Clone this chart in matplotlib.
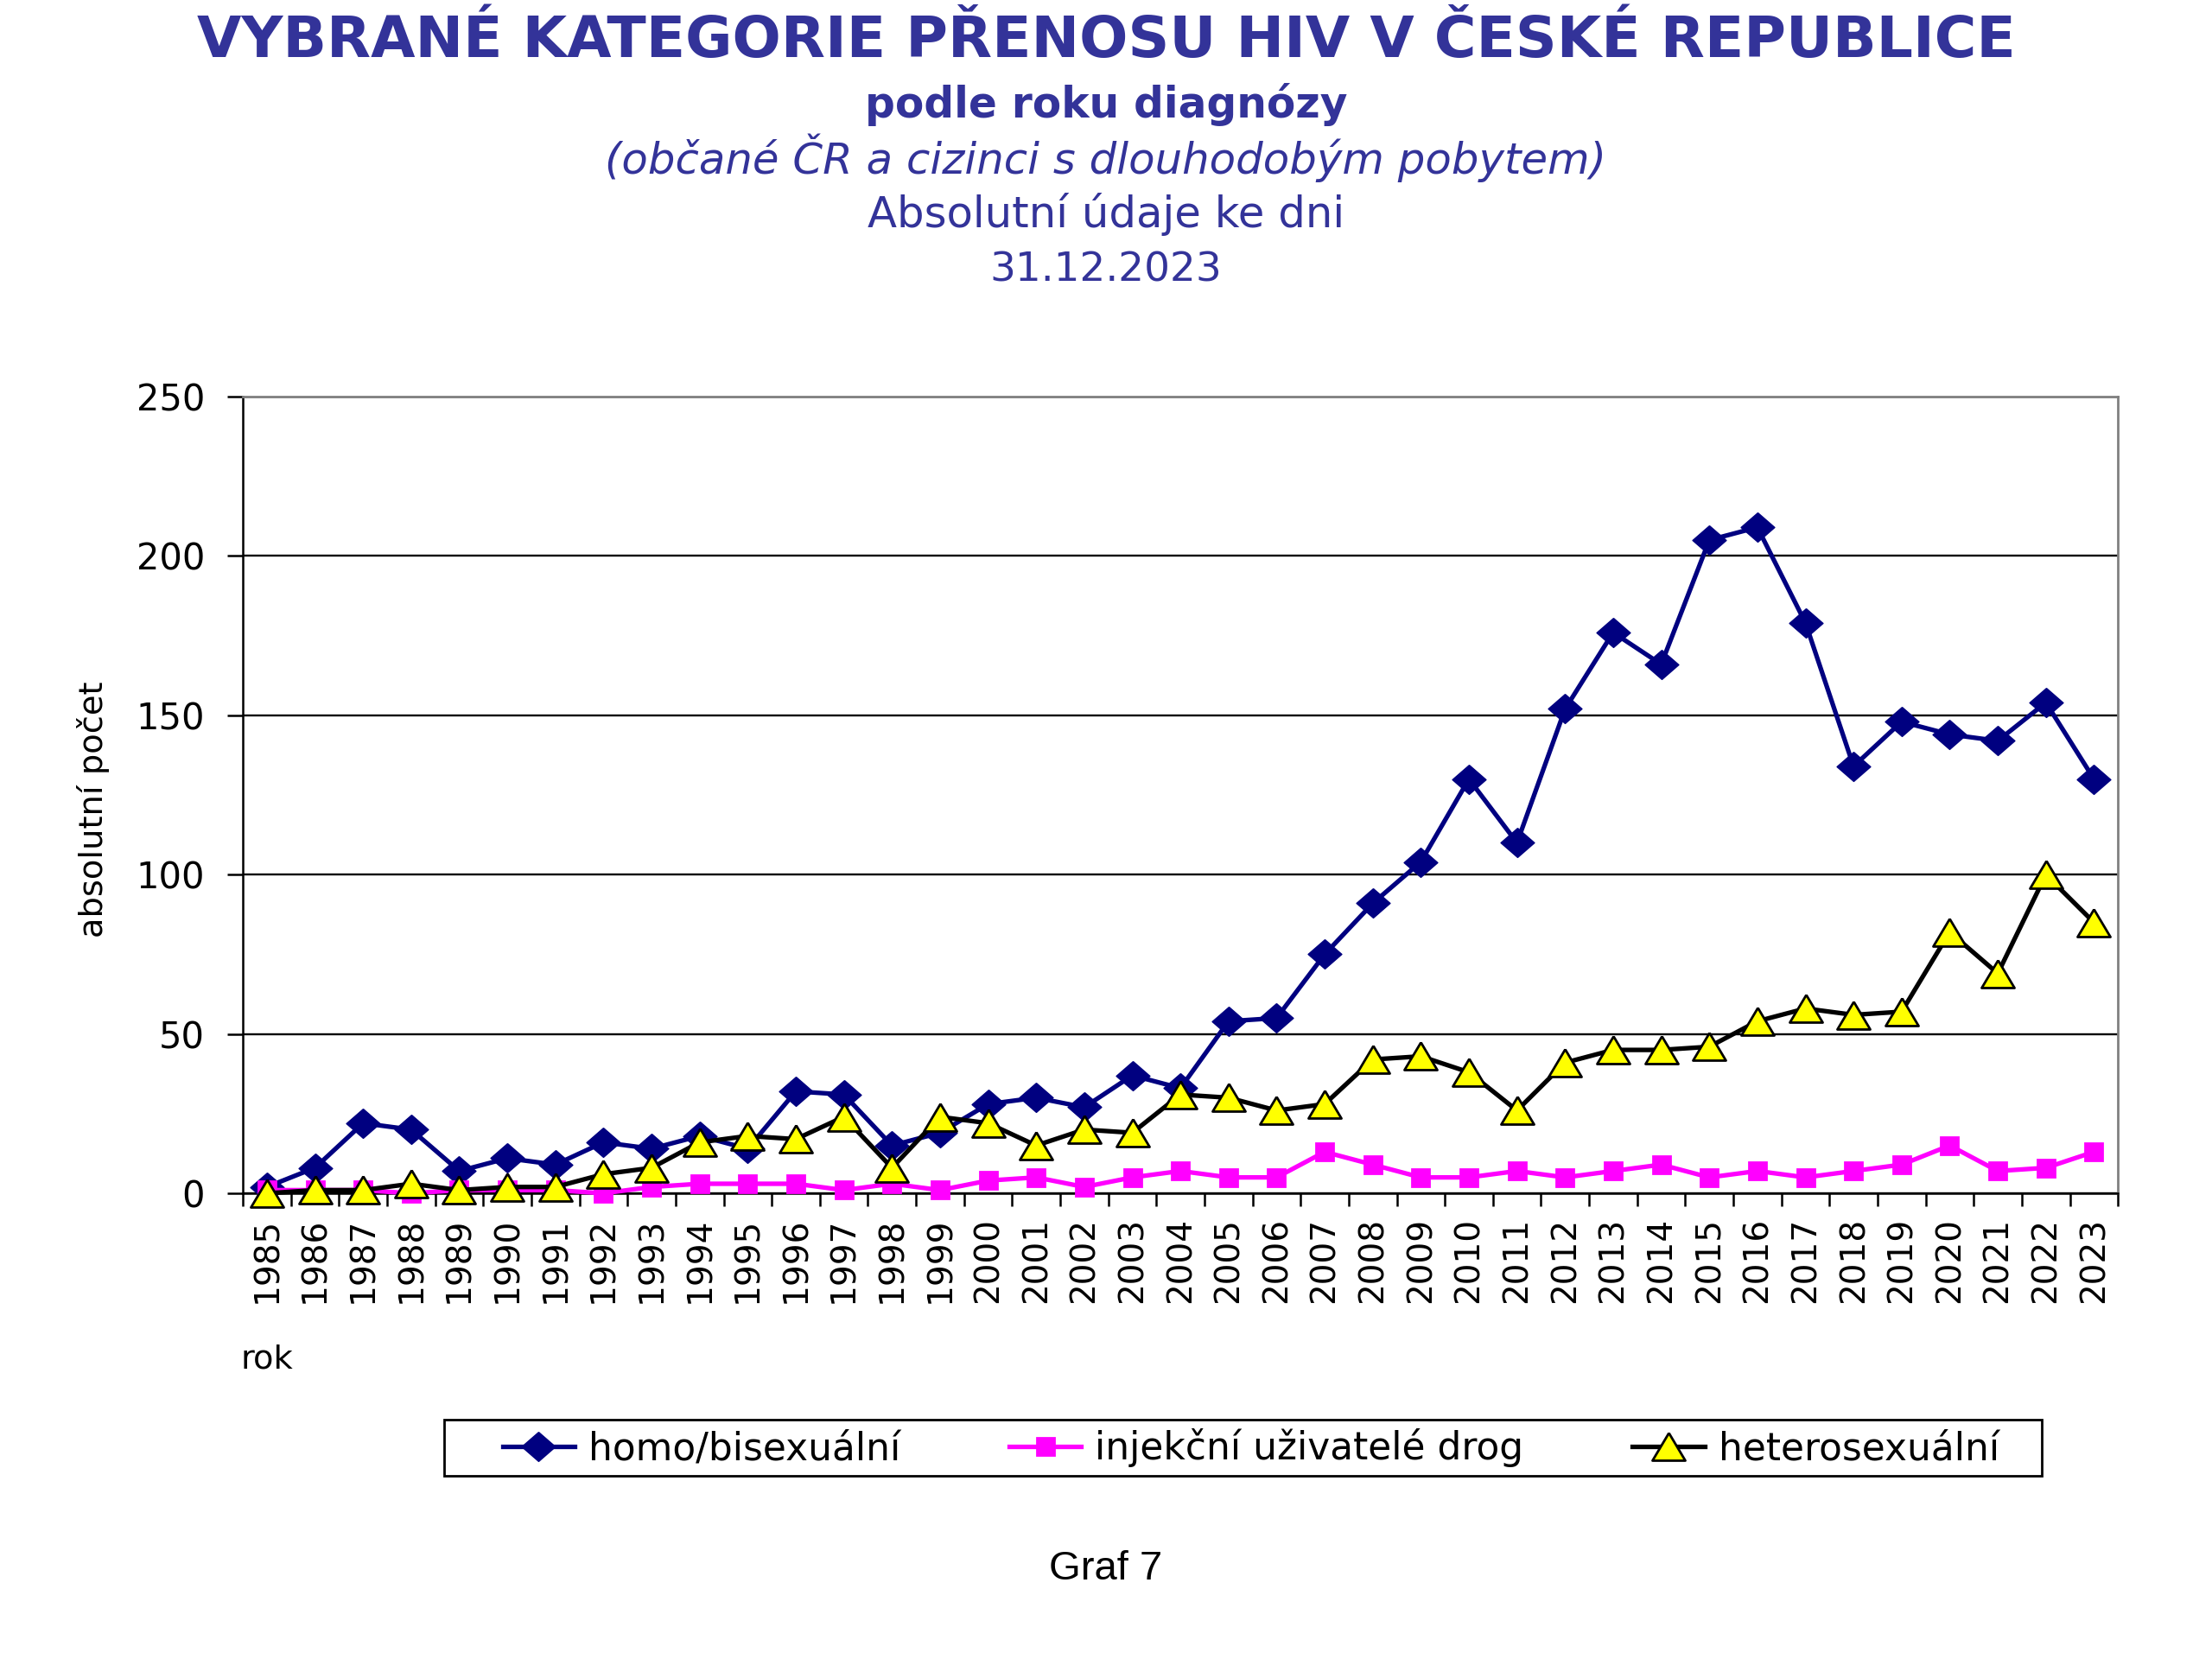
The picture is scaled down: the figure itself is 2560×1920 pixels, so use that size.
"""
Vybrané kategorie přenosu HIV v ČR – graf 7 (rekonstrukce)
"""

import matplotlib
matplotlib.use("Agg")
import matplotlib.pyplot as plt
import matplotlib.patches as patches

plt.rcParams['font.family'] = ['DejaVu Sans']

# --- data ---
roky = list(range(1985, 2024))
homo_bi = [2, 8, 22, 20, 7, 11, 9, 16, 14, 18, 14, 32, 31, 15, 19, 28, 30, 27, 37, 33,
           54, 55, 75, 91, 104, 130, 110, 152, 176, 166, 205, 209, 179, 134, 148, 144, 142, 154, 130]
injekcni = [1, 1, 1, 0, 1, 1, 1, 0, 2, 3, 3, 3, 1, 3, 1, 4, 5, 2, 5, 7,
            5, 5, 13, 9, 5, 5, 7, 5, 7, 9, 5, 7, 5, 7, 9, 15, 7, 8, 13]
hetero = [0, 1, 1, 3, 1, 2, 2, 6, 8, 16, 18, 17, 24, 8, 24, 22, 15, 20, 19, 31,
          30, 26, 28, 42, 43, 38, 26, 41, 45, 45, 46, 54, 58, 56, 57, 82, 69, 100, 85]
serie_nazvy = ["homo/bisexuální", "injekční uživatelé drog", "heterosexuální"]
y_ticks = [0, 50, 100, 150, 200, 250]

TITLE_COL = "#333399"

# excelovske znacky: kosoctverec i trojuhelnik o neco sirsi nez vysoke
DIAMANT = [(0, 0.87), (1, 0), (0, -0.87), (-1, 0), (0, 0.87)]
TROJUH = [(0, 0.84), (-1, -0.84), (1, -0.84), (0, 0.84)]

fig = plt.figure(figsize=(12.8, 9.6), dpi=200)
ax = fig.add_axes([0.1098, 0.2807, 0.8477, 0.4802])

x = list(range(len(roky)))

# poradi jako v Excelu: pozdejsi serie nahore
ax.plot(x, homo_bi, color="#000080", lw=1.9, marker=DIAMANT, ms=14,
        mfc="#000080", mec="#000080", mew=0.5, clip_on=False, zorder=3, label=serie_nazvy[0])
ax.plot(x, injekcni, color="#FF00FF", lw=1.9, marker="s", ms=7.5,
        mfc="#FF00FF", mec="#FF00FF", clip_on=False, zorder=4, label=serie_nazvy[1])
ax.plot(x, hetero, color="black", lw=1.9, marker=TROJUH, ms=13.7,
        mfc="#FFFF00", mec="black", mew=1.0, clip_on=False, zorder=5, label=serie_nazvy[2])

ax.set_xlim(-0.5, len(roky) - 0.5)
ax.set_ylim(0, 250)

# osa y
ax.set_yticks(y_ticks)
ax.set_yticklabels([str(v) for v in y_ticks])
ax.tick_params(axis="y", direction="out", length=6.5, width=0.9, pad=9.4,
               color="black", labelsize=15)
ax.yaxis.grid(True, color="black", lw=0.85)
ax.set_axisbelow(True)

# osa x: popisky mezi znackami (hranice kategorii jako vedlejsi znacky)
ax.set_xticks([i - 0.5 for i in range(len(roky) + 1)], minor=True)
ax.set_xticks(x)
ax.set_xticklabels([str(r) for r in roky], rotation=90, fontsize=14)
ax.tick_params(axis="x", which="major", length=0, pad=10)
ax.tick_params(axis="x", which="minor", direction="out", length=5.4, width=0.9, color="black")

for s in ("left", "bottom"):
    ax.spines[s].set_color("black")
    ax.spines[s].set_linewidth(0.9)
for s in ("top", "right"):
    ax.spines[s].set_color("#808080")
    ax.spines[s].set_linewidth(1.0)

# nadpisy
fig.text(0.5, 0.975, "VYBRANÉ KATEGORIE PŘENOSU HIV V ČESKÉ REPUBLICE", ha="center", va="center",
         fontsize=23.9, fontweight="bold", color=TITLE_COL)
fig.text(0.5, 0.937, "podle roku diagnózy", ha="center", va="center",
         fontsize=17.5, fontweight="bold", color=TITLE_COL)
fig.text(0.5, 0.9047, "(občané ČR a cizinci s dlouhodobým pobytem)", ha="center", va="center",
         fontsize=17.9, style="italic", color=TITLE_COL)
fig.text(0.5, 0.871, "Absolutní údaje ke dni", ha="center", va="center",
         fontsize=17.9, color=TITLE_COL)
fig.text(0.5, 0.8372, "31.12.2023", ha="center", va="center",
         fontsize=16.9, color=TITLE_COL)

fig.text(0.0422, 0.512, "absolutní počet", rotation=90, ha="center", va="center", fontsize=13.8)
fig.text(0.1086, 0.1807, "rok", ha="left", va="center", fontsize=13.8)
fig.text(0.5, 0.0542, "Graf 7", ha="center", va="center", fontsize=17,
         family=["Liberation Sans", "DejaVu Sans"])

# legenda s rucne kreslenym ramem
fig.patches.append(patches.Rectangle((0.2008, 0.1104), 0.9230 - 0.2008, 0.1443 - 0.1104,
                                     transform=fig.transFigure, fill=False,
                                     edgecolor="black", lw=1.0))
h, l = ax.get_legend_handles_labels()
fig.legend(h, l, loc="center", bbox_to_anchor=(0.5655, 0.1273), ncol=3, frameon=False,
           fontsize=15.8, handlelength=1.9, handletextpad=0.36, columnspacing=2.87)

fig.savefig("out.png", dpi=200)
